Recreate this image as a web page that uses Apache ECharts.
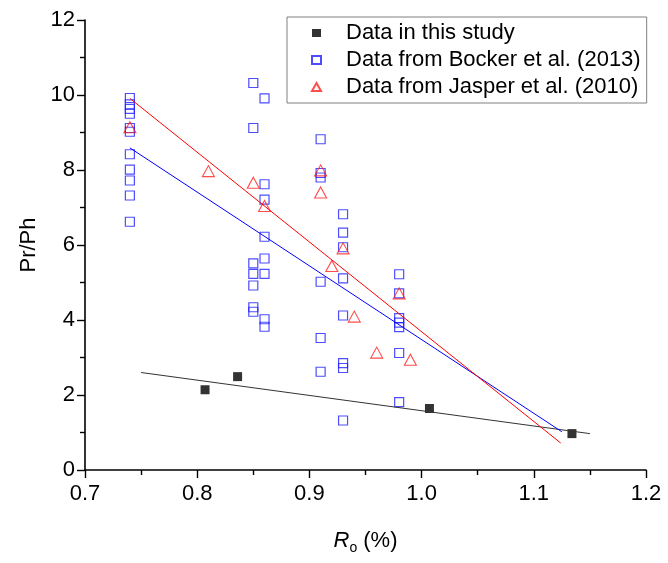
<!DOCTYPE html>
<html>
<head>
<meta charset="utf-8">
<script src="https://cdn.jsdelivr.net/npm/echarts@6/dist/echarts.min.js"></script>
<style>
html,body{margin:0;padding:0;background:#fff;}
#c{width:668px;height:563px;}
</style>
</head>
<body>
<div id="c"></div>
<script>
// ---- data ----
var xTicks = [0.7, 0.8, 0.9, 1.0, 1.1, 1.2];
var yTicks = [0, 2, 4, 6, 8, 10, 12];

var studyX = [0.807, 0.836, 1.007, 1.134];
var studyY = [2.14, 2.49, 1.64, 0.97];

var bockerX = [0.74,0.74,0.74,0.74,0.74,0.74,0.74,0.74,0.74,0.74,0.74,
               0.85,0.85,0.85,0.85,0.85,0.85,0.85,
               0.86,0.86,0.86,0.86,0.86,0.86,0.86,0.86,
               0.91,0.91,0.91,0.91,0.91,0.91,
               0.93,0.93,0.93,0.93,0.93,0.93,0.93,0.93,
               0.98,0.98,0.98,0.98,0.98,0.98,0.98];
var bockerY = [9.92,9.75,9.63,9.50,9.12,9.02,8.42,8.01,7.72,7.32,6.62,
               10.32,9.12,5.51,5.23,4.92,4.34,4.22,
               9.91,7.62,7.21,6.22,5.64,5.23,4.02,3.82,
               8.82,7.92,7.80,5.02,3.52,2.62,
               6.82,6.33,5.94,5.11,4.12,2.85,2.72,1.32,
               5.22,4.71,4.05,3.93,3.81,3.12,1.81];

var jasperX = [0.74, 0.81, 0.85, 0.86, 0.91, 0.91, 0.92, 0.93, 0.94, 0.96, 0.98, 0.99];
var jasperY = [9.14, 7.97, 7.66, 7.04, 7.99, 7.40, 5.44, 5.91, 4.09, 3.13, 4.71, 2.94];

// fitted lines (end points)
var studyFitX = [0.75, 1.15];
var studyFitY = [2.60, 0.97];
var bockerFitX = [0.74, 1.125];
var bockerFitY = [8.59, 1.02];
var jasperFitX = [0.74, 1.124];
var jasperFitY = [9.91, 0.72];

var legendNames = ['Data in this study', 'Data from Bocker et al. (2013)', 'Data from Jasper et al. (2010)'];

function zip(xs, ys){ return xs.map(function(x,i){ return [x, ys[i]]; }); }

var FONT = '"Liberation Sans", Arial, sans-serif';

var chart = echarts.init(document.getElementById('c'), null, {renderer:'canvas'});
chart.setOption({
  backgroundColor: '#fff',
  animation: false,
  textStyle: {fontFamily: FONT, color: '#000'},
  grid: {left: 85, right: 22, top: 20, bottom: 93, containLabel: false},
  legend: {
    data: [
      {name: legendNames[0], icon: 'rect'},
      {name: legendNames[1], icon: 'rect'},
      {name: legendNames[2], icon: 'triangle'}
    ],
    orient: 'vertical',
    left: 287, top: 17,
    padding: [5, 6, 5, 24],
    itemWidth: 9, itemHeight: 8,
    itemGap: 5,
    borderColor: '#808080', borderWidth: 1,
    textStyle: {fontFamily: FONT, fontSize: 22, color: '#000', padding: [0, 0, 0, 20]},
    selectedMode: false
  },
  xAxis: {
    type: 'value', min: 0.7, max: 1.2, interval: 0.1,
    name: '{i|R}{s|o}{n| (%)}',
    nameLocation: 'middle', nameGap: 57,
    nameTextStyle: {
      fontFamily: FONT, fontSize: 22, color: '#000',
      rich: {
        i: {fontFamily: FONT, fontSize: 22, fontStyle: 'italic', color: '#000', lineHeight: 28},
        s: {fontFamily: FONT, fontSize: 14, color: '#000', verticalAlign: 'bottom', lineHeight: 14},
        n: {fontFamily: FONT, fontSize: 22, color: '#000', lineHeight: 28}
      }
    },
    axisLine: {show: true, onZero: false, lineStyle: {color: '#000', width: 1.6}},
    axisTick: {show: true, inside: false, length: 8, lineStyle: {color: '#000', width: 1.4}},
    minorTick: {show: true, splitNumber: 2, length: 5, lineStyle: {color: '#000', width: 1.4}},
    splitLine: {show: false},
    axisLabel: {
      fontFamily: FONT, fontSize: 22, color: '#000', margin: 13,
      formatter: function(v){ return v.toFixed(1); }
    }
  },
  yAxis: {
    type: 'value', min: 0, max: 12, interval: 2,
    name: 'Pr/Ph',
    nameLocation: 'middle', nameGap: 45,
    nameTextStyle: {fontFamily: FONT, fontSize: 22, color: '#000'},
    axisLine: {show: true, onZero: false, lineStyle: {color: '#000', width: 1.6}},
    axisTick: {show: true, inside: false, length: 8, lineStyle: {color: '#000', width: 1.4}},
    minorTick: {show: true, splitNumber: 2, length: 5, lineStyle: {color: '#000', width: 1.4}},
    splitLine: {show: false},
    axisLabel: {fontFamily: FONT, fontSize: 22, color: '#000', margin: 10}
  },
  series: [
    {
      name: 'studyFit', type: 'line', data: zip(studyFitX, studyFitY),
      symbol: 'none', silent: true,
      lineStyle: {color: '#333', width: 1}
    },
    {
      name: 'bockerFit', type: 'line', data: zip(bockerFitX, bockerFitY),
      symbol: 'none', silent: true,
      lineStyle: {color: '#0000ff', width: 1}
    },
    {
      name: 'jasperFit', type: 'line', data: zip(jasperFitX, jasperFitY),
      symbol: 'none', silent: true,
      lineStyle: {color: '#ff0000', width: 1}
    },
    {
      name: legendNames[1], type: 'scatter', data: zip(bockerX, bockerY),
      symbol: 'rect', symbolSize: 9,
      itemStyle: {color: 'rgba(255,255,255,0)', borderColor: '#2020ff', borderWidth: 1.2}
    },
    {
      name: legendNames[2], type: 'scatter', data: zip(jasperX, jasperY),
      symbol: 'triangle', symbolSize: [12, 11],
      itemStyle: {color: 'rgba(255,255,255,0)', borderColor: '#ff2020', borderWidth: 1.1}
    },
    {
      name: legendNames[0], type: 'scatter', data: zip(studyX, studyY),
      symbol: 'rect', symbolSize: 9,
      itemStyle: {color: '#000'}
    }
  ]
});
</script>
</body>
</html>
